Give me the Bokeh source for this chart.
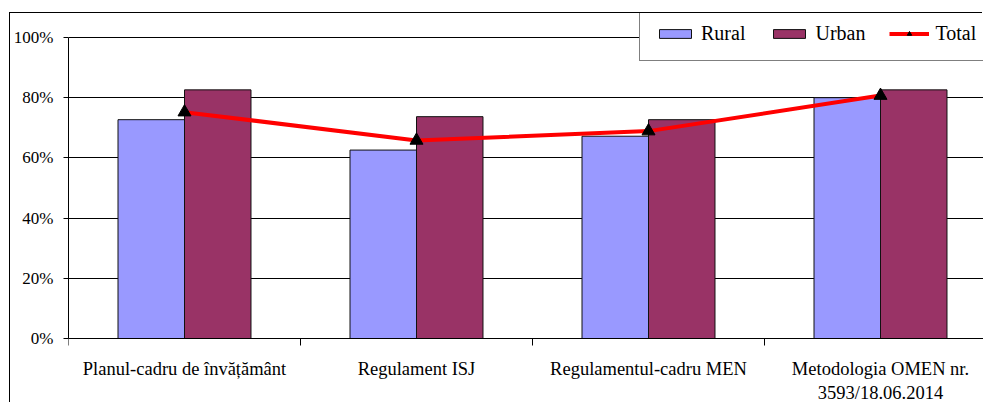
import numpy as np
from bokeh.plotting import figure
from bokeh.models import (ColumnDataSource, Range1d, FixedTicker, NumeralTickFormatter,
                          Legend, LegendItem)
from bokeh.embed import file_html
from bokeh.resources import INLINE

# Share of respondents who know each regulatory document, by area
categories = ["Planul-cadru de învățământ", "Regulament ISJ",
              "Regulamentul-cadru MEN", "Metodologia OMEN nr.\n3593/18.06.2014"]
rural = [0.727, 0.626, 0.672, 0.800]
urban = [0.826, 0.737, 0.727, 0.826]
total = [0.752, 0.658, 0.689, 0.807]
y_ticks = [0, 0.2, 0.4, 0.6, 0.8, 1.0]

FONT = "Liberation Serif"
RURAL_COLOR = "#9999FF"
URBAN_COLOR = "#993366"

idx = np.arange(len(categories))
centers = idx + 0.5
bar_w = 0.2866

src = ColumnDataSource(dict(
    center=centers,
    rural_x=centers - bar_w / 2,
    urban_x=centers + bar_w / 2,
    rural=rural, urban=urban, total=total,
))

# chart box sits 10px in / 13px down in the page; its left/top edges are outlined
MX, MY = 10, 13
W, H = 983 - MX, 403 - MY
LEFT = 58
cat_px = 232.0          # pixel width of one category slot
val_px = 301.0          # pixels for 0..100%
top_pad = 24.0          # free space above the 100% line (room for the legend)
bottom_pad = 65.0       # room under the 0% line for the category labels

p = figure(width=W, height=H, output_backend="svg", toolbar_location=None,
           x_range=Range1d(0, (W - LEFT) / cat_px),
           y_range=Range1d(-bottom_pad / val_px, 1.0 + top_pad / val_px),
           min_border_left=LEFT, min_border_right=0,
           min_border_top=0, min_border_bottom=0)
p.margin = (MY, 0, 0, MX)
p.styles = {"box-shadow": "-1px -1px 0 0 black"}
p.outline_line_color = None
p.background_fill_color = "white"
p.border_fill_color = "white"

r_rural = p.vbar(x="rural_x", top="rural", width=bar_w, source=src,
                 fill_color=RURAL_COLOR, line_color="#111111", line_width=1)
r_urban = p.vbar(x="urban_x", top="urban", width=bar_w, source=src,
                 fill_color=URBAN_COLOR, line_color="#111111", line_width=1)
r_line = p.line(x="center", y="total", source=src, line_color="#FF0000", line_width=4)
r_mark = p.scatter(x="center", y="total", source=src, marker="triangle", size=13,
                   fill_color="black", line_color="black")

# y axis
p.yaxis.ticker = FixedTicker(ticks=y_ticks)
p.yaxis.bounds = (0, 1)
p.yaxis.formatter = NumeralTickFormatter(format="0%")
p.yaxis.major_label_text_font = FONT
p.yaxis.major_label_text_font_size = "17px"
p.yaxis.major_label_text_color = "black"
p.yaxis.major_tick_out = 5
p.yaxis.major_tick_in = 0
p.yaxis.minor_tick_line_color = None
p.yaxis.major_label_standoff = 10
p.yaxis.axis_line_color = "black"
p.yaxis.major_tick_line_color = "black"

# x axis sits on the 0% line: labels at category centers, tick marks at boundaries
p.xaxis.fixed_location = 0
p.xaxis.ticker = FixedTicker(ticks=list(centers), minor_ticks=list(idx) + [len(categories)])
p.xaxis.major_label_overrides = {float(c): lab for c, lab in zip(centers, categories)}
p.xaxis.major_tick_out = 0
p.xaxis.major_tick_in = 0
p.xaxis.minor_tick_out = 7
p.xaxis.minor_tick_in = 0
p.xaxis.minor_tick_line_color = "black"
p.xaxis.major_label_text_font = FONT
p.xaxis.major_label_text_font_size = "18.5px"
p.xaxis.major_label_text_color = "black"
p.xaxis.major_label_standoff = 13
p.xaxis.axis_line_color = "black"

p.xgrid.grid_line_color = None
p.ygrid.ticker = FixedTicker(ticks=y_ticks)
p.ygrid.grid_line_color = "black"
p.ygrid.grid_line_width = 1

legend = Legend(items=[
    LegendItem(label="Rural", renderers=[r_rural]),
    LegendItem(label="Urban", renderers=[r_urban]),
    LegendItem(label="Total", renderers=[r_line, r_mark]),
], orientation="horizontal", location=(571, 342))
legend.label_text_font = FONT
legend.label_text_font_size = "20px"
legend.label_text_color = "black"
legend.glyph_width = 40
legend.glyph_height = 11
legend.label_standoff = 6
legend.spacing = 24
legend.padding = 15
legend.border_line_color = "black"
legend.border_line_width = 1
legend.background_fill_color = "white"
legend.background_fill_alpha = 1
p.add_layout(legend, "center")

open("out.html", "w").write(file_html(p, INLINE))
